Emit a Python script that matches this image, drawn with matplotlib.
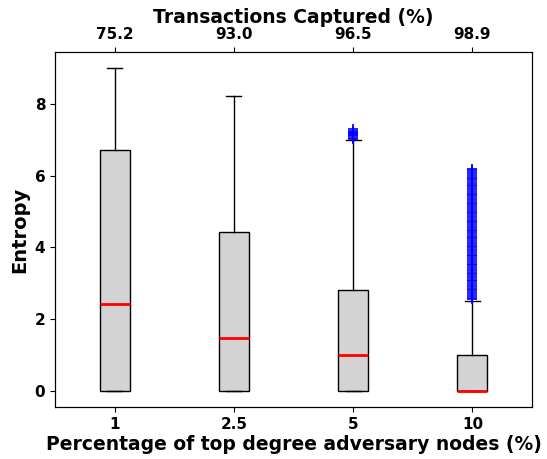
import matplotlib
matplotlib.use('Agg')
import matplotlib.pyplot as plt

# data
categories = ['1', '2.5', '5', '10']
captured = ['75.2', '93.0', '96.5', '98.9']
q1 = [0.0, 0.0, 0.0, 0.0]
med = [2.42, 1.47, 1.0, 0.0]
q3 = [6.72, 4.44, 2.8, 1.0]
whislo = [0.0, 0.0, 0.0, 0.0]
whishi = [9.0, 8.22, 7.0, 2.52]
fliers = [
    [],
    [],
    [7.03, 7.06, 7.1, 7.13, 7.16, 7.2, 7.23, 7.26, 7.3],
    [2.55, 2.6, 2.65, 2.7, 2.75, 2.8, 2.85, 2.9, 2.95, 3.0, 3.05, 3.1,
     3.15, 3.2, 3.25, 3.3, 3.35, 3.4, 3.45, 3.5, 3.55, 3.6, 3.65, 3.7,
     3.75, 3.8, 3.85, 3.9, 3.95, 4.0, 4.05, 4.1, 4.15, 4.2, 4.25, 4.3,
     4.35, 4.4, 4.45, 4.5, 4.55, 4.6, 4.65, 4.7, 4.75, 4.8, 4.85, 4.9,
     4.95, 5.0, 5.05, 5.1, 5.15, 5.2, 5.25, 5.3, 5.35, 5.4, 5.45, 5.5,
     5.55, 5.6, 5.65, 5.7, 5.75, 5.8, 5.85, 5.9, 5.95, 6.0, 6.05, 6.1,
     6.15, 6.2],
]

stats = []
for i in range(len(categories)):
    stats.append(dict(q1=q1[i], med=med[i], q3=q3[i], whislo=whislo[i],
                      whishi=whishi[i], fliers=fliers[i], label=categories[i]))

fig = plt.figure(figsize=(5.47, 4.59), dpi=100)
ax = fig.add_axes([55 / 547, 52 / 459, 477 / 547, 355 / 459])

ax.bxp(stats, widths=0.25, patch_artist=True,
       boxprops=dict(facecolor='lightgray', edgecolor='black', linewidth=1),
       medianprops=dict(color='red', linewidth=2),
       flierprops=dict(marker='+', markeredgecolor='blue', markersize=7,
                       markeredgewidth=1.2),
       whiskerprops=dict(linewidth=1), capprops=dict(linewidth=1))

ax.set_ylim(-0.45, 9.45)
ax.set_xlim(0.5, 4.5)
ax.set_yticks([0, 2, 4, 6, 8])
ax.set_ylabel('Entropy', fontsize=14, fontweight='bold')
ax.set_xlabel('Percentage of top degree adversary nodes (%)', fontsize=13.5,
              fontweight='bold', labelpad=2)
for lab in ax.get_xticklabels() + ax.get_yticklabels():
    lab.set_fontsize(11)
    lab.set_fontweight('bold')

ax2 = ax.twiny()
ax2.set_xlim(ax.get_xlim())
ax2.set_xticks([1, 2, 3, 4])
ax2.set_xticklabels(captured, fontsize=11, fontweight='bold')
ax2.set_xlabel('Transactions Captured (%)', fontsize=13.5, fontweight='bold', labelpad=3)

plt.savefig('out.png', dpi=100)
